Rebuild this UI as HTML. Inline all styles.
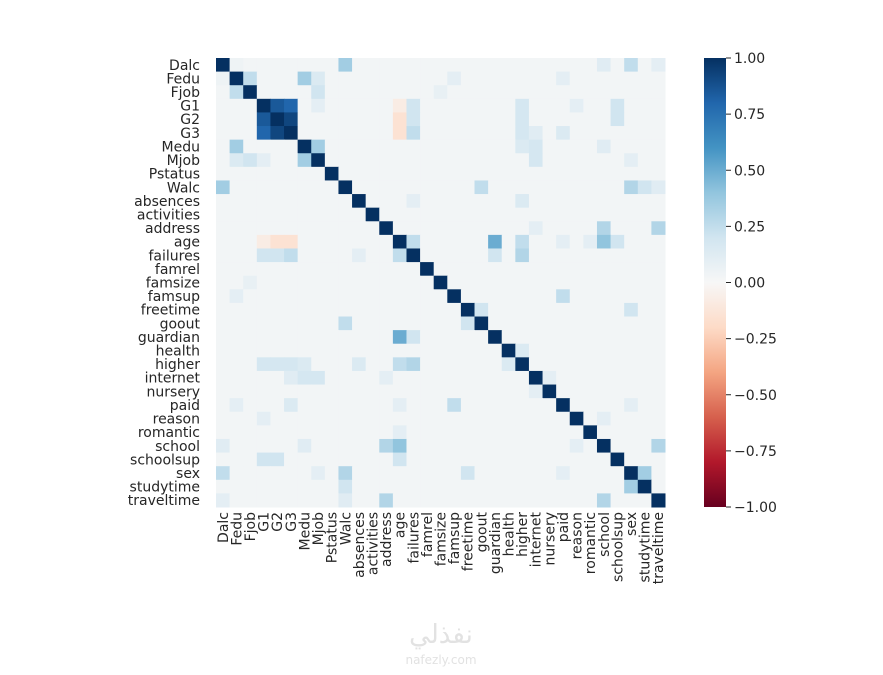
<!DOCTYPE html>
<html><head><meta charset="utf-8"><style>
body{margin:0;background:#fff;}
svg text{font-family:"DejaVu Sans","Liberation Sans",sans-serif;fill:#262626;}
</style></head><body>
<svg id="chart" width="883" height="670" xmlns="http://www.w3.org/2000/svg">
<defs><linearGradient id="cbg" x1="0" y1="1" x2="0" y2="0">
<stop offset="0" stop-color="#67001f"/><stop offset="0.1" stop-color="#b2182b"/><stop offset="0.2" stop-color="#d6604d"/><stop offset="0.3" stop-color="#f4a582"/><stop offset="0.4" stop-color="#fddbc7"/><stop offset="0.5" stop-color="#f7f7f7"/><stop offset="0.6" stop-color="#d1e5f0"/><stop offset="0.7" stop-color="#92c5de"/><stop offset="0.8" stop-color="#4393c3"/><stop offset="0.9" stop-color="#2166ac"/><stop offset="1" stop-color="#053061"/>
</linearGradient></defs>
<g id="cells"></g>
<g id="ylab"></g>
<g id="xlab"></g>
<rect x="704" y="58" width="22" height="449" fill="url(#cbg)"/>
<g id="cbt"></g>
<text x="441" y="643" text-anchor="middle" font-size="26" style="fill:#e2e2e2">نفذلي</text>
<text x="441" y="664" text-anchor="middle" font-size="12" style="fill:#e2e2e2">nafezly.com</text>
</svg>
<script>
const labels=["Dalc","Fedu","Fjob","G1","G2","G3","Medu","Mjob","Pstatus","Walc","absences","activities","address","age","failures","famrel","famsize","famsup","freetime","goout","guardian","health","higher","internet","nursery","paid","reason","romantic","school","schoolsup","sex","studytime","traveltime"];
const pairA=["Dalc","Dalc","Dalc","Fedu","Fedu","Fedu","Fjob","G1","G1","G2","G1","G2","G3","G1","G2","G3","G1","G2","G3","G1","G2","Medu","Medu","Walc","Walc","Walc","age","age","age","age","age","failures","failures","famsup","freetime","freetime","address","address","school","sex","absences","Mjob","Fedu","G1","G3","Dalc","Medu","G3","absences","health","Walc","Fedu","Medu","Mjob","age","address","Dalc","paid","romantic","reason","G1","famsize","internet"];
const pairB=["Walc","sex","school","Fjob","Medu","Mjob","Mjob","G2","G3","G3","age","age","age","failures","failures","failures","higher","higher","higher","schoolsup","schoolsup","Mjob","internet","goout","sex","studytime","failures","guardian","school","higher","schoolsup","higher","guardian","paid","goout","sex","school","traveltime","traveltime","studytime","higher","internet","famsup","Mjob","paid","Fedu","higher","internet","failures","higher","traveltime","paid","school","sex","paid","internet","traveltime","sex","age","school","reason","Fjob","nursery"];
const pairV=[0.35,0.25,0.12,0.25,0.35,0.15,0.2,0.85,0.8,0.92,-0.08,-0.15,-0.15,0.2,0.2,0.25,0.18,0.18,0.18,0.2,0.2,0.35,0.18,0.25,0.3,0.2,0.25,0.5,0.4,0.25,0.2,0.3,0.2,0.25,0.2,0.2,0.3,0.3,0.3,0.35,0.15,0.18,0.1,0.1,0.15,0.05,0.15,0.12,0.1,0.15,0.12,0.1,0.12,0.1,0.1,0.1,0.1,0.1,0.1,0.1,0.1,0.08,0.1];
const baseVal=0.025;
const stops=[[103,0,31],[178,24,43],[214,96,77],[244,165,130],[253,219,199],[247,247,247],[209,229,240],[146,197,222],[67,147,195],[33,102,172],[5,48,97]];
function col(v){let t=(v+1)/2*10;t=Math.max(0,Math.min(10,t));const i=Math.min(9,Math.floor(t)),f=t-i;const a=stops[i],b=stops[i+1];return`rgb(${a.map((c,k)=>Math.round(c+(b[k]-c)*f)).join(',')})`;}
const n=labels.length,X0=216,Y0=58,S=449/n;
const M=labels.map((_,i)=>labels.map((_,j)=>i===j?1:baseVal));
pairA.forEach((a,k)=>{const i=labels.indexOf(a),j=labels.indexOf(pairB[k]);M[i][j]=M[j][i]=pairV[k];});
const NS="http://www.w3.org/2000/svg";
const cells=document.getElementById('cells'),yl=document.getElementById('ylab'),xl=document.getElementById('xlab'),cbt=document.getElementById('cbt');
for(let i=0;i<n;i++)for(let j=0;j<n;j++){const r=document.createElementNS(NS,'rect');
r.setAttribute('x',X0+j*S);r.setAttribute('y',Y0+i*S);r.setAttribute('width',S+0.5);r.setAttribute('height',S+0.5);r.setAttribute('fill',col(M[i][j]));


cells.appendChild(r);}
labels.forEach((l,i)=>{const t=document.createElementNS(NS,'text');t.setAttribute('x',200);t.setAttribute('y',Y0+(i+0.5)*S+5);t.setAttribute('text-anchor','end');t.setAttribute('font-size','14');t.textContent=l;


yl.appendChild(t);
const u=document.createElementNS(NS,'text');const cx=X0+(i+0.5)*S+5;u.setAttribute('transform',`translate(${cx},512) rotate(-90)`);u.setAttribute('text-anchor','end');u.setAttribute('font-size','14');u.textContent=l;


xl.appendChild(u);});
const cbTicks=[1,0.75,0.5,0.25,0,-0.25,-0.5,-0.75,-1];
cbTicks.forEach(v=>{const y=58+(1-v)/2*449;const ln=document.createElementNS(NS,'line');ln.setAttribute('x1',726);ln.setAttribute('x2',731);ln.setAttribute('y1',y);ln.setAttribute('y2',y);ln.setAttribute('stroke','#262626');


cbt.appendChild(ln);
const t=document.createElementNS(NS,'text');t.setAttribute('x',734);t.setAttribute('y',y+5);t.setAttribute('font-size','14');t.textContent=(v<0?'\u2212':'')+Math.abs(v).toFixed(2);


cbt.appendChild(t);});
</script>
</body></html>
